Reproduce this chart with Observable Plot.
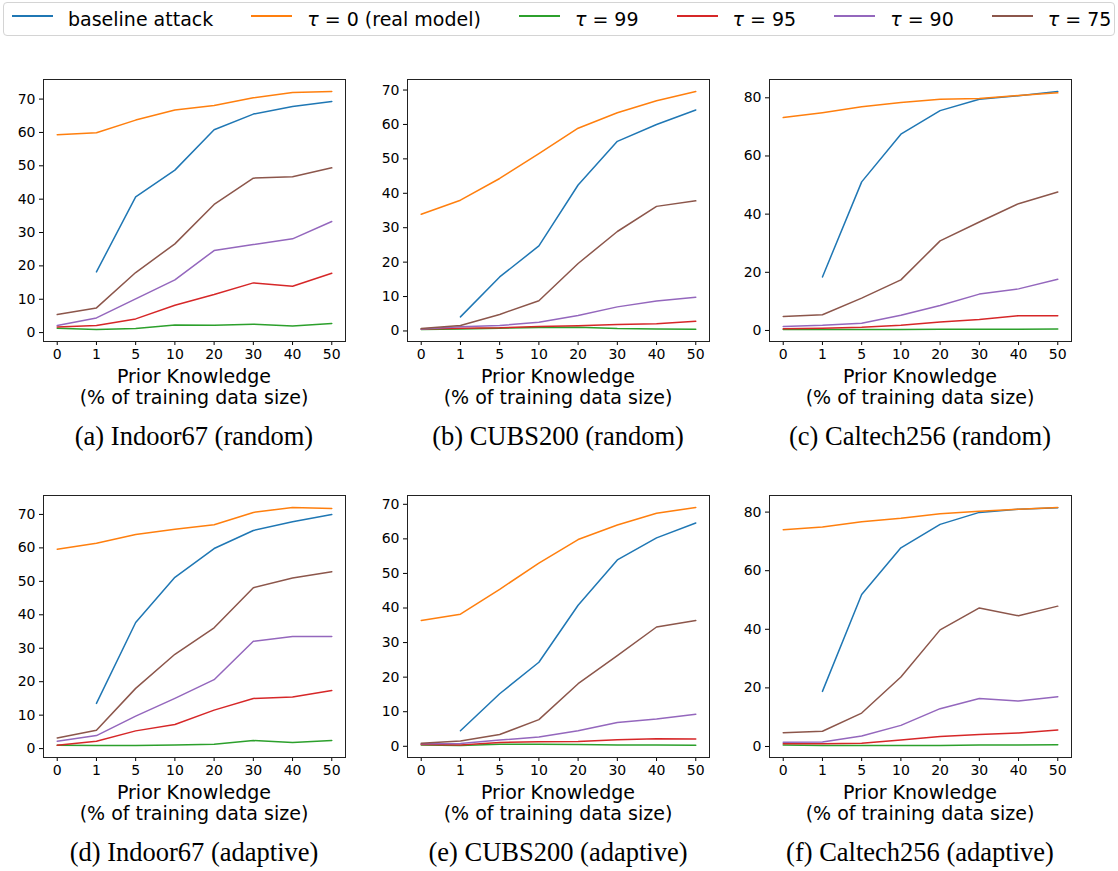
<!DOCTYPE html>
<html><head><meta charset="utf-8">
<script src="https://cdn.jsdelivr.net/npm/d3@7"></script>
<script src="https://cdn.jsdelivr.net/npm/@observablehq/plot@0.6"></script>
<style>
body{margin:0;background:#fff;}
#fig{position:relative;width:1118px;height:871px;overflow:hidden;font-family:"DejaVu Sans";color:#000;}
.legend{position:absolute;left:3px;top:2px;width:1112px;height:34px;border:1px solid #d4d4d4;border-radius:4px;box-sizing:border-box;display:flex;align-items:center;padding-left:8px;font-size:19px;white-space:nowrap;}
.item{display:flex;align-items:center;margin-right:38px;}
.swatch{width:41px;height:0;border-top:2px solid;margin-right:15px;transform:translateY(-3px);}
.panel{position:absolute;}
.xl{position:absolute;width:400px;text-align:center;font-size:19px;line-height:21px;white-space:pre;}
.cap{position:absolute;width:400px;text-align:center;font-family:"Liberation Serif";font-size:26.5px;line-height:26px;white-space:nowrap;}
</style></head>
<body><div id="fig"></div>
<script>
// ---------- data ----------
const xLabels = ["0","1","5","10","20","30","40","50"];
const seriesNames = ["baseline attack","τ = 0 (real model)","τ = 99","τ = 95","τ = 90","τ = 75"];
const seriesColors = ["#1f77b4","#ff7f0e","#2ca02c","#d62728","#9467bd","#8c564b"];
const yTicks70 = [0,10,20,30,40,50,60,70];
const yTicks80 = [0,20,40,60,80];
const captions = ["(a) Indoor67 (random)","(b) CUBS200 (random)","(c) Caltech256 (random)",
                  "(d) Indoor67 (adaptive)","(e) CUBS200 (adaptive)","(f) Caltech256 (adaptive)"];
const xLabelText = "Prior Knowledge\n(% of training data size)";

// series order: baseline, tau0, tau99, tau95, tau90, tau75
const indoor67Random = [
  [null,18.2,40.7,48.7,60.8,65.5,67.8,69.3],
  [59.3,59.9,63.7,66.7,68.1,70.4,72.0,72.3],
  [1.3,0.9,1.2,2.3,2.2,2.5,2.0,2.7],
  [1.7,2.1,4.1,8.2,11.4,14.9,13.9,17.8],
  [2.1,4.4,10.1,15.8,24.6,26.4,28.1,33.3],
  [5.4,7.4,18.0,26.6,38.4,46.3,46.7,49.4]
];
const cubs200Random = [
  [null,4.1,15.7,24.7,42.4,55.1,60.0,64.2],
  [33.9,38.0,44.3,51.5,58.9,63.4,66.9,69.6],
  [0.4,0.6,0.8,1.0,1.1,0.7,0.6,0.5],
  [0.6,0.8,0.9,1.3,1.5,1.9,2.1,2.8],
  [0.6,1.2,1.6,2.5,4.5,7.0,8.7,9.8],
  [0.7,1.6,4.8,8.8,19.6,28.9,36.2,37.8]
];
const caltech256Random = [
  [null,18.4,51.1,67.5,75.6,79.5,80.7,82.2],
  [73.2,74.9,76.9,78.4,79.5,79.8,80.8,81.7],
  [0.3,0.3,0.3,0.3,0.4,0.4,0.4,0.5],
  [0.6,0.8,1.1,1.8,2.9,3.8,5.1,5.1],
  [1.4,1.8,2.5,5.2,8.6,12.5,14.3,17.6],
  [4.8,5.4,11.1,17.4,30.8,37.3,43.6,47.6]
];
const indoor67Adaptive = [
  [null,13.5,37.7,51.2,59.8,65.2,67.8,70.0],
  [59.6,61.4,64.0,65.6,66.9,70.6,72.1,71.8],
  [1.0,0.9,0.9,1.1,1.3,2.4,1.8,2.4],
  [1.0,2.2,5.3,7.2,11.5,15.0,15.4,17.4],
  [2.2,3.9,9.7,15.0,20.6,32.1,33.5,33.5],
  [3.2,5.5,18.0,28.2,36.1,48.1,51.0,52.9]
];
const cubs200Adaptive = [
  [null,4.5,15.2,24.3,40.8,53.9,60.3,64.6],
  [36.4,38.2,45.4,53.0,59.8,64.0,67.4,69.1],
  [0.4,0.2,0.6,0.6,0.5,0.4,0.4,0.3],
  [0.5,0.4,1.1,1.3,1.4,1.9,2.2,2.1],
  [0.7,0.8,1.8,2.7,4.5,6.9,7.9,9.3],
  [0.9,1.5,3.4,7.7,18.1,26.2,34.5,36.4]
];
const caltech256Adaptive = [
  [null,18.8,51.9,67.8,75.8,79.9,81.0,81.5],
  [74.0,74.9,76.7,77.9,79.4,80.3,81.0,81.6],
  [0.5,0.3,0.3,0.3,0.3,0.5,0.5,0.6],
  [0.9,0.9,1.1,2.2,3.4,4.1,4.6,5.6],
  [1.4,1.5,3.6,7.2,12.9,16.4,15.5,17.0],
  [4.7,5.2,11.4,23.7,39.8,47.3,44.6,47.9]
];
const panelData = [indoor67Random,cubs200Random,caltech256Random,indoor67Adaptive,cubs200Adaptive,caltech256Adaptive];
const panelTicks = [yTicks70,yTicks70,yTicks80,yTicks70,yTicks70,yTicks80];

// ---------- layout ----------
const frameLefts = [43,407,769];
const frameTops = [79,495];
const frameW = 302, frameH = 262;
const mL = 40, mR = 5, mT = 5, mB = 25;

const fig = document.getElementById("fig");

// legend
const leg = document.createElement("div");
leg.className = "legend";
seriesNames.forEach((name,k) => {
  const it = document.createElement("div"); it.className = "item";
  if (k === seriesNames.length - 1) it.style.marginRight = "0";
  const sw = document.createElement("div"); sw.className = "swatch"; sw.style.borderColor = seriesColors[k];
  const tx = document.createElement("span");
  if (name.startsWith("τ")) {
    const t = document.createElement("i"); t.textContent = "τ";
    tx.appendChild(t); tx.appendChild(document.createTextNode(name.slice(1)));
  } else tx.textContent = name;
  it.appendChild(sw); it.appendChild(tx); leg.appendChild(it);
});
fig.appendChild(leg);

panelData.forEach((series,p) => {
  const col = p % 3, row = Math.floor(p / 3);
  const L = frameLefts[col], T = frameTops[row];
  const rows = series.flatMap((vals,s) => vals.map((v,i) => ({i, v, s: seriesNames[s]})));
  const vals = rows.map(d => d.v).filter(v => v != null);
  const lo = d3.min(vals), hi = d3.max(vals), pad = (hi - lo) * 0.05;
  const chart = Plot.plot({
    width: frameW + mL + mR, height: frameH + mT + mB,
    marginLeft: mL, marginRight: mR, marginTop: mT, marginBottom: mB,
    style: {fontFamily: "DejaVu Sans", fontSize: "14px", color: "#000", background: "transparent", overflow: "visible"},
    x: {domain: [-0.35, 7.35], ticks: d3.range(xLabels.length), tickFormat: i => xLabels[i], tickSize: 4, tickPadding: 4, label: null},
    y: {domain: [lo - pad, hi + pad], ticks: panelTicks[p], tickSize: 4, tickPadding: 4, label: null},
    color: {domain: seriesNames, range: seriesColors},
    marks: [
      Plot.line(rows, {x: "i", y: "v", z: "s", stroke: "s", strokeWidth: 1.5}),
      Plot.frame({stroke: "#222", strokeWidth: 1})
    ]
  });
  chart.classList.add("panel");
  chart.style.left = (L - mL) + "px";
  chart.style.top = (T - mT) + "px";
  fig.appendChild(chart);

  const cx = L + frameW / 2;
  const xl = document.createElement("div"); xl.className = "xl";
  xl.textContent = xLabelText;
  xl.style.left = (cx - 200) + "px"; xl.style.top = (T + frameH + 25) + "px";
  fig.appendChild(xl);

  const cap = document.createElement("div"); cap.className = "cap";
  cap.textContent = captions[p];
  cap.style.left = (cx - 200) + "px"; cap.style.top = (T + frameH + 104 - 22) + "px";
  fig.appendChild(cap);
});
</script></body></html>
